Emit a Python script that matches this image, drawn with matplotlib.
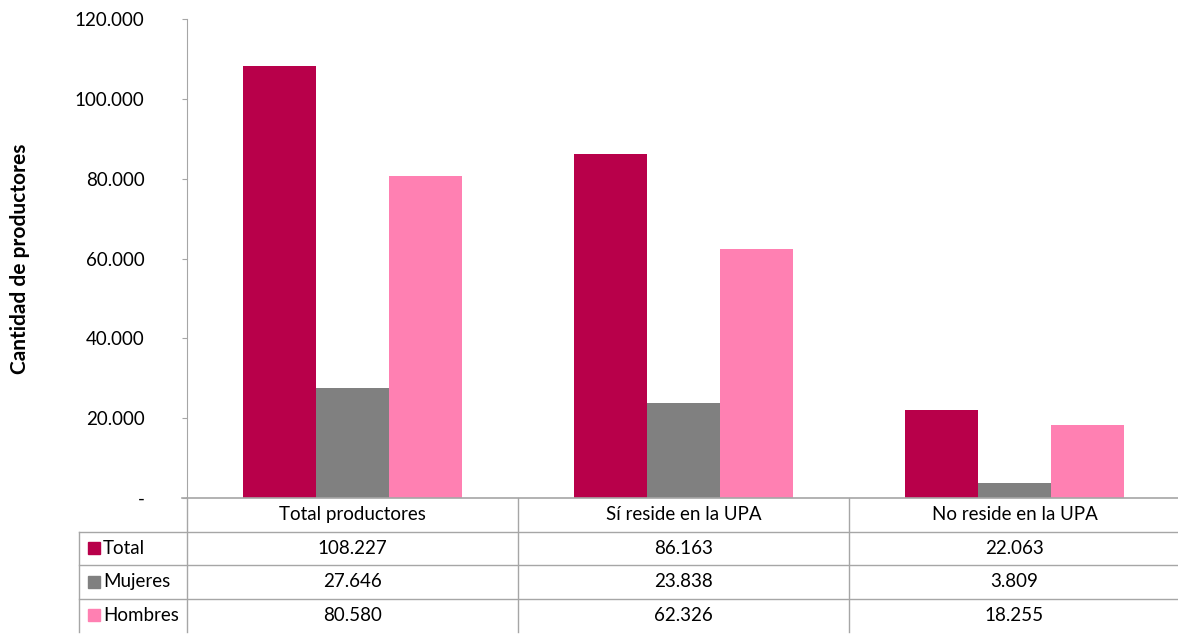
import matplotlib.pyplot as plt
import numpy as np

# data
categories = ['Total productores', 'Sí reside en la UPA', 'No reside en la UPA']
series_names = ['Total', 'Mujeres', 'Hombres']
total = [108227, 86163, 22063]
mujeres = [27646, 23838, 3809]
hombres = [80580, 62326, 18255]
y_ticks = [0, 20000, 40000, 60000, 80000, 100000, 120000]
y_tick_labels = ['-', '20.000', '40.000', '60.000', '80.000', '100.000', '120.000']

colors = ['#B8004A', '#808080', '#FF80B2']
line_col = '#A6A6A6'
fs = 13.5

plt.rcParams['font.family'] = ['Lato', 'DejaVu Sans']

fig = plt.figure(figsize=(11.78, 6.34), dpi=100)
# axes placed in pixels of the original picture
W, H = 1178, 634
ax = fig.add_axes([187 / W, (H - 498) / H, 993 / W, 479 / H])

def fmt(v):
    return f'{v:,}'.replace(',', '.')

x = np.arange(len(categories))
bw = 0.22
for i, vals in enumerate([total, mujeres, hombres]):
    ax.bar(x + (i - 1) * bw, vals, width=bw, color=colors[i], zorder=2)

ax.set_xlim(-0.5, 2.5)
ax.set_ylim(0, 120000)
ax.set_yticks(y_ticks)
ax.set_yticklabels(y_tick_labels, fontsize=fs)
ax.tick_params(axis='y', length=3.6, color=line_col, pad=27)
ax.tick_params(axis='x', bottom=False, labelbottom=False)
for s in ['top', 'right']:
    ax.spines[s].set_visible(False)
ax.spines['left'].set_color(line_col)
ax.spines['bottom'].set_color(line_col)
ax.spines['bottom'].set_linewidth(1.2)
ax.set_ylabel('Cantidad de productores', fontsize=15, fontweight='bold')
ax.yaxis.set_label_coords(-0.158, 0.5)

# data table below the plot (x in data units, y in axes fraction)
tr = ax.get_xaxis_transform()
rh = 33.5 / 479
left = -0.5 - (187 - 79) / 331
n_rows = len(series_names)
bottom = -(n_rows + 1) * rh
# vertical lines
for k in range(len(categories)):
    ax.plot([k - 0.5, k - 0.5], [0, bottom], color=line_col, lw=1, transform=tr, clip_on=False)
ax.plot([left, left], [-rh, bottom], color=line_col, lw=1, transform=tr, clip_on=False)
# horizontal lines
for r in range(1, n_rows + 1):
    ax.plot([left, 2.5], [-r * rh, -r * rh], color=line_col, lw=1, transform=tr, clip_on=False)
ax.plot([-0.5 - 5 / 331, -0.5], [0, 0], color=line_col, lw=1.2, transform=tr, clip_on=False)

# header row
for k, c in enumerate(categories):
    ax.text(k, -0.5 * rh, c, ha='center', va='center', fontsize=fs, transform=tr)

# series rows
for r, (name, vals) in enumerate(zip(series_names, [total, mujeres, hombres])):
    yc = -(r + 1.5) * rh
    ax.plot([-0.5 - (187 - 94) / 331], [yc], marker='s', ms=8.5, color=colors[r],
            transform=tr, clip_on=False, ls='none')
    ax.text(-0.5 - (187 - 103) / 331, yc, name, ha='left', va='center', fontsize=fs, transform=tr)
    for k, v in enumerate(vals):
        ax.text(k, yc, fmt(v), ha='center', va='center', fontsize=fs, transform=tr)

plt.savefig('out.png', dpi=100)
